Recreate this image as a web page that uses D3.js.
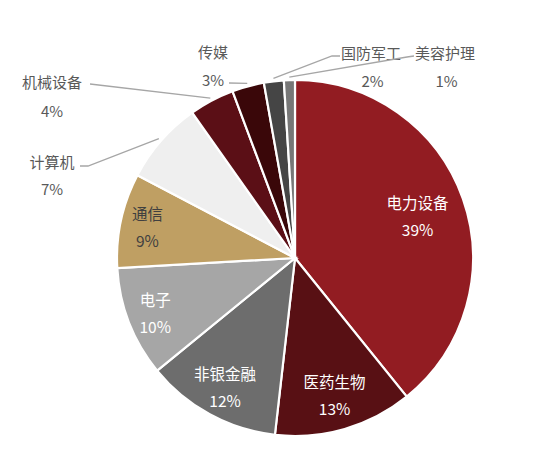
<!DOCTYPE html>
<html><head><meta charset="utf-8">
<script src="https://cdn.jsdelivr.net/npm/d3@7"></script>
<style>
html,body{margin:0;padding:0;background:#fff;}
svg{display:block;font-family:"Noto Sans CJK SC","Noto Sans",sans-serif;}
</style></head>
<body>
<svg id="chart" width="550" height="476"></svg>
<script>
// ---- data ----
const categories = ["电力设备","医药生物","非银金融","电子","通信","计算机","机械设备","传媒","国防军工","美容护理"];
const shares     = [39.2, 12.6, 12.3, 10.0, 8.6, 7.5, 4.1, 2.9, 1.8, 1.0];
const pctLabels  = ["39%","13%","12%","10%","9%","7%","4%","3%","2%","1%"];
const colors     = ["#921c22","#581014","#6d6d6d","#a6a6a6","#bf9f63","#efefef","#5b0f16","#3a0709","#454545","#777777"];

// ---- layout ----
const cx = 295, cy = 258, R = 178;
const svg = d3.select("#chart");
const g = svg.append("g").attr("transform", `translate(${cx},${cy})`);

const data = categories.map((c,i)=>({name:c, value:shares[i], pct:pctLabels[i], color:colors[i], i}));
const pie = d3.pie().value(d=>d.value).sort(null).startAngle(0).endAngle(2*Math.PI);
const arcs = pie(data);
const arc = d3.arc().innerRadius(0).outerRadius(R);

g.selectAll("path.slice").data(arcs).enter().append("path")
  .attr("class","slice")
  .attr("d", arc)
  .attr("fill", d=>d.data.color)
  .attr("stroke","#fff")
  .attr("stroke-width",2.2)
  .attr("stroke-linejoin","miter");

// inner labels: radius per slice and text colour
const innerCfg = {0:{r:130,c:"#ffffff"},1:{r:142,c:"#ffffff"},2:{r:146,c:"#ffffff"},3:{r:150,c:"#ffffff"},4:{r:151,c:"#404040"}};
arcs.forEach((a,i)=>{
  const cfg = innerCfg[i]; if(!cfg) return;
  const [x,y] = d3.arc().innerRadius(cfg.r).outerRadius(cfg.r).centroid(a);
  g.append("text").attr("x",x).attr("y",y-13).attr("text-anchor","middle")
   .attr("dominant-baseline","central").attr("font-size",15.5).attr("fill",cfg.c).text(a.data.name);
  g.append("text").attr("x",x).attr("y",y+14).attr("text-anchor","middle")
   .attr("dominant-baseline","central").attr("font-size",15.5).attr("fill",cfg.c).text(a.data.pct);
});

// outer labels (absolute page coordinates for text and leader elbows)
const outerCfg = {
  5:{tx:52, ty:161, py:188, pts:[[80,166],[88,166]]},
  6:{tx:52, ty:81,  py:110, pts:[[90,84]]},
  7:{tx:213,ty:51,  py:79,  pts:[[229,83]]},
  8:{tx:371,ty:52,  py:80,  pts:[[340,56],[332,56]]},
  9:{tx:445,ty:52,  py:80,  pts:[[414,56],[407,57]]}
};
const labelLayer = svg.append("g");
arcs.forEach((a,i)=>{
  const cfg = outerCfg[i]; if(!cfg) return;
  const mid = (a.startAngle + a.endAngle)/2;
  const ex = cx + (R+3)*Math.sin(mid), ey = cy - (R+3)*Math.cos(mid);
  const pts = cfg.pts.concat([[ex,ey]]);
  labelLayer.append("path").attr("d", d3.line()(pts)).attr("fill","none")
     .attr("stroke","#a6a6a6").attr("stroke-width",1.3);
  labelLayer.append("text").attr("x",cfg.tx).attr("y",cfg.ty).attr("text-anchor","middle")
     .attr("dominant-baseline","central").attr("font-size",15).attr("fill","#595959").text(a.data.name);
  labelLayer.append("text").attr("x",cfg.tx+ (i>=8?1.5:0)).attr("y",cfg.py).attr("text-anchor","middle")
     .attr("dominant-baseline","central").attr("font-size",15).attr("fill","#595959").text(a.data.pct);
});
</script>
</body></html>
